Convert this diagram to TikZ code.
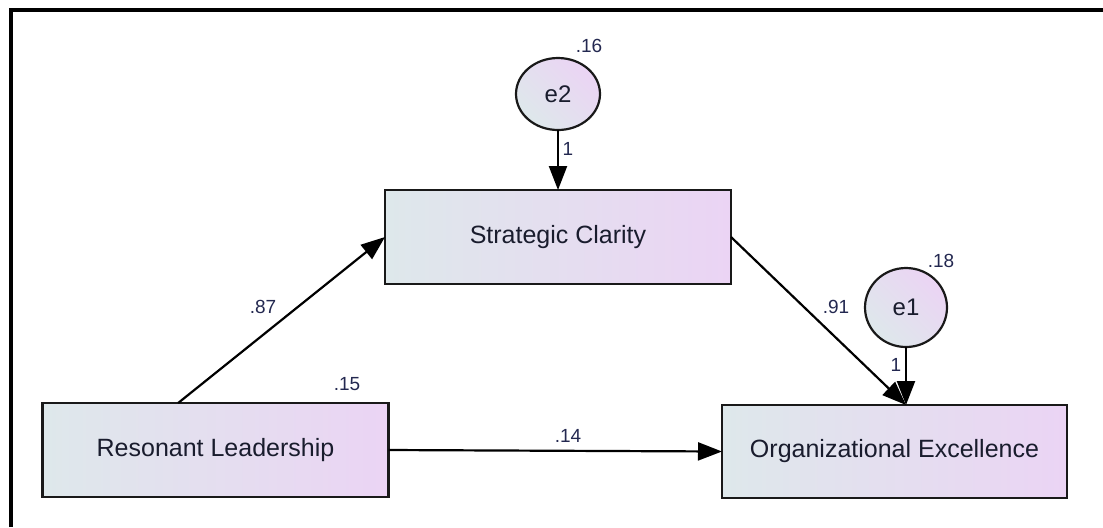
\documentclass[tikz,border=0pt]{standalone}
\usepackage{fontspec}
\setmainfont{Liberation Sans}
\usetikzlibrary{arrows.meta,shapes.geometric,calc}
\definecolor{gl}{RGB}{222,232,235}
\definecolor{gr}{RGB}{235,212,244}
\definecolor{txt}{RGB}{25,28,45}
\definecolor{lbl}{RGB}{35,40,80}
\begin{document}
\begin{tikzpicture}[x=0.5pt,y=-0.5pt,
 box/.style={draw=black!90, line width=1.2pt, left color=gl, right color=gr,
   minimum width=173pt, minimum height=47pt, inner sep=0pt, outer sep=0pt,
   font=\fontsize{12.5}{14}\selectfont, text=txt},
 err/.style={ellipse, draw=black!90, line width=1.1pt, left color=gl, right color=gr,
   shading angle=135, minimum width=42pt, minimum height=36pt, inner sep=0pt, outer sep=0pt,
   font=\fontsize{12}{14}\selectfont, text=txt},
 arr/.style={line width=1.1pt, -{Triangle[length=12pt,width=9pt]}},
 lab/.style={font=\fontsize{9.5}{11}\selectfont, text=lbl, inner sep=0pt}
]
\useasboundingbox (0,0) rectangle (1103,527);
\draw[line width=2pt] (11,527) -- (11,10) -- (1103,10);

\node[box] (SC) at (558,237) {Strategic Clarity};
\node[box] (RL) at (215.5,450) {Resonant Leadership};
\node[box, minimum width=172.5pt, minimum height=46.5pt] (OE) at (894.5,451.5) {Organizational Excellence};
\node[err] (e2) at (558,94) {e2};
\node[err, minimum width=41pt, minimum height=39.5pt] (e1) at (906,307.5) {e1};

\coordinate (t) at (e1.south |- OE.north);
\draw[arr] (e2) -- (SC);
\draw[arr] (e1) -- (t);
\draw[arr] ($(RL.north west)!0.392!(RL.north east)$) -- (SC.west);
\draw[arr] (SC.east) -- (t);
\draw[arr] (RL.east) -- (OE.west);

\node[lab] (l16) at (589,46) {.16};
\node[lab] (l18) at (941,261) {.18};
\node[lab] (l15) at (347,384) {.15};
\node[lab] (l87) at (263,307) {.87};
\node[lab] (l91) at (836,307) {.91};
\node[lab] (l14) at (568,436) {.14};
\node[lab] (l1a) at (568,149) {1};
\node[lab] (l1b) at (896,365) {1};
\end{tikzpicture}
\end{document}
